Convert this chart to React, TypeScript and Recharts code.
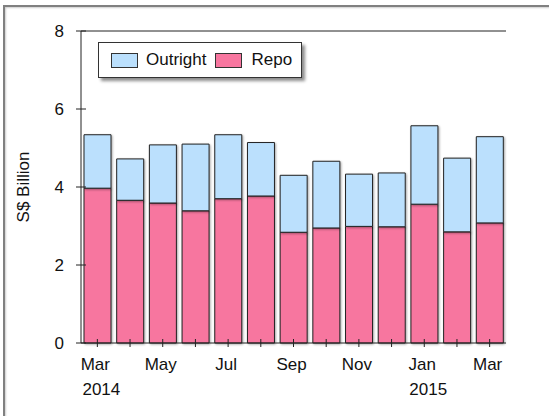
import React from "react";
import {
  BarChart,
  Bar,
  XAxis,
  YAxis,
  Legend,
} from "recharts";

const months = ["Mar", "Apr", "May", "Jun", "Jul", "Aug", "Sep", "Oct", "Nov", "Dec", "Jan", "Feb", "Mar"];
const years = ["2014", "", "", "", "", "", "", "", "", "", "2015", "", ""];
const repo = [3.97, 3.66, 3.59, 3.39, 3.7, 3.77, 2.84, 2.95, 2.99, 2.98, 3.56, 2.85, 3.08];
const outright = [1.37, 1.06, 1.49, 1.71, 1.64, 1.37, 1.46, 1.71, 1.34, 1.38, 2.01, 1.89, 2.21];
const yTicks = [0, 2, 4, 6, 8];

const data = months.map((m, i) => ({
  key: `${m}-${i}`,
  month: m,
  year: years[i],
  repo: repo[i],
  outright: outright[i],
}));

const FONT = '"Liberation Sans", Arial, sans-serif';
const BLUE = "#BBE0FD";
const PINK = "#F7769F";

const XTick = (props: any) => {
  const { x, y, index } = props;
  const d = data[index];
  return (
    <g>
      <line x1={x} x2={x} y1={y - 4} y2={y + 4} stroke="#222" />
      {index % 2 === 0 && (
        <text x={x - 2} y={y + 27} textAnchor="middle" fontSize={17} fontFamily={FONT} fill="#111">
          {d.month}
        </text>
      )}
      {d.year && (
        <text x={x + 4} y={y + 52} textAnchor="middle" fontSize={17} fontFamily={FONT} fill="#111">
          {d.year}
        </text>
      )}
    </g>
  );
};

const YTick = (props: any) => {
  const { x, y, payload } = props;
  return (
    <g>
      <line x1={x - 5} x2={x + 5} y1={y} y2={y} stroke="#222" />
      <text x={x - 17} y={y} dy="0.36em" textAnchor="end" fontSize={17} fontFamily={FONT} fill="#111">
        {payload.value}
      </text>
    </g>
  );
};

const LegendBox = () => (
  <div
    style={{
      width: 202,
      height: 34,
      border: "1px solid #333",
      background: "#fff",
      boxShadow: "3px 3px 3px rgba(0,0,0,0.45)",
      display: "flex",
      alignItems: "center",
      fontFamily: FONT,
      fontSize: 17,
      color: "#111",
    }}
  >
    <span style={{ width: 25, height: 13, background: BLUE, border: "1px solid #333", marginLeft: 12 }} />
    <span style={{ marginLeft: 8 }}>Outright</span>
    <span style={{ width: 25, height: 13, background: PINK, border: "1px solid #333", marginLeft: 9 }} />
    <span style={{ marginLeft: 9 }}>Repo</span>
  </div>
);

export default function App() {
  return (
    <div style={{ position: "absolute", left: 0, top: 0, width: 549, height: 416, background: "#fff", overflow: "hidden" }}>
      <style>{`.recharts-bar-rectangle path { filter: drop-shadow(1px 1px 1px rgba(0,0,0,0.35)); }`}</style>
      <div
        style={{
          position: "absolute",
          left: 3,
          top: 5,
          width: 600,
          height: 500,
          borderTop: "2px solid #808080",
          borderLeft: "2px solid #808080",
          boxShadow: "inset 1px 1px 2px rgba(0,0,0,0.2)",
        }}
      />
      <div style={{ position: "absolute", left: 0, top: 0 }}>
        <BarChart
          width={549}
          height={416}
          data={data}
          margin={{ top: 30, right: 43, left: 11, bottom: 13 }}
          barSize={27}
        >
          <XAxis
            dataKey="key"
            interval={0}
            tick={<XTick />}
            tickLine={false}
            tickSize={0}
            tickMargin={0}
            axisLine={{ stroke: "#222" }}
            height={60}
          />
          <XAxis xAxisId="top" orientation="top" dataKey="key" tick={false} tickLine={false} height={1} axisLine={{ stroke: "#222" }} />
          <YAxis
            domain={[0, 8]}
            ticks={yTicks}
            interval={0}
            tick={<YTick />}
            tickLine={false}
            tickSize={0}
            tickMargin={0}
            axisLine={{ stroke: "#222" }}
            width={70}
            label={({ viewBox }: any) => {
              const cx = viewBox.x + 12;
              const cy = viewBox.y + viewBox.height / 2;
              return (
                <text
                  x={cx}
                  y={cy}
                  transform={`rotate(-90, ${cx}, ${cy})`}
                  textAnchor="middle"
                  dominantBaseline="central"
                  fontSize={17}
                  fontFamily={FONT}
                  fill="#111"
                >
                  S$ Billion
                </text>
              );
            }}
          />
          <YAxis yAxisId="right" orientation="right" domain={[0, 8]} tick={false} tickLine={false} width={0} axisLine={{ stroke: "#222" }} />
          <Legend
            content={<LegendBox />}
            layout="horizontal"
            verticalAlign="middle"
            align="center"
            wrapperStyle={{ left: 98, top: 42, width: "auto" }}
          />
          <Bar dataKey="repo" name="Repo" stackId="a" fill={PINK} stroke="#222" strokeWidth={1} isAnimationActive={false} />
          <Bar dataKey="outright" name="Outright" stackId="a" fill={BLUE} stroke="#222" strokeWidth={1} isAnimationActive={false} />
        </BarChart>
      </div>
    </div>
  );
}
